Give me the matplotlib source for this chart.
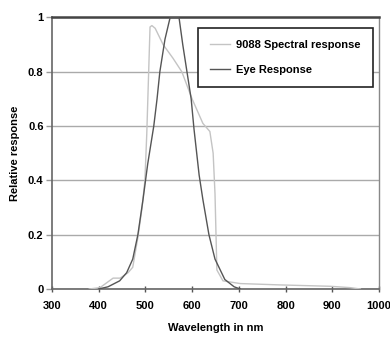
import matplotlib
matplotlib.use("Agg")
import matplotlib.pyplot as plt

# 9088 spectral response (light gray)
spec_nm = [380, 403, 431, 446, 463, 473, 484, 493, 499, 503, 510, 514, 521, 538, 559, 578,
           600, 623, 638, 645, 649, 653, 666, 703, 788, 895, 938, 960]
spec_val = [0.0, 0.005, 0.04, 0.04, 0.06, 0.08, 0.19, 0.30, 0.40, 0.57, 0.965, 0.97, 0.96, 0.90,
            0.85, 0.80, 0.70, 0.61, 0.58, 0.50, 0.35, 0.07, 0.03, 0.02, 0.015, 0.01, 0.005, 0.0]

# Eye response (dark gray)
eye_nm = [400, 420, 445, 460, 473, 484, 495, 505, 518, 525, 531, 542, 553, 572, 580, 589,
          598, 604, 615, 623, 636, 649, 670, 690, 703]
eye_val = [0.0, 0.008, 0.03, 0.06, 0.11, 0.20, 0.33, 0.46, 0.60, 0.70, 0.80, 0.92, 1.0, 1.0,
           0.90, 0.80, 0.70, 0.59, 0.42, 0.33, 0.20, 0.11, 0.035, 0.008, 0.0]

x_ticks = [300, 400, 500, 600, 700, 800, 900, 1000]
y_ticks = [0, 0.2, 0.4, 0.6, 0.8, 1]
y_labels = ["0", "0.2", "0.4", "0.6", "0.8", "1"]

fam = ["Liberation Sans", "DejaVu Sans"]
FS = 8
FONT = dict(family=fam, fontweight="bold")

fig = plt.figure(figsize=(3.9, 3.42), dpi=100)
ax = fig.add_axes([0.133, 0.155, 0.839, 0.794])

ax.plot(spec_nm, spec_val, color="#c4c4c4", lw=1.0, label="9088 Spectral response", zorder=3)
ax.plot(eye_nm, eye_val, color="#555555", lw=1.0, label="Eye Response", zorder=4)

ax.set_xlim(300, 1000)
ax.set_ylim(0, 1)
ax.set_xticks(x_ticks)
ax.set_yticks(y_ticks)
ax.set_xticklabels([str(v) for v in x_ticks], fontsize=FS, **FONT)
ax.set_yticklabels(y_labels, fontsize=FS, **FONT)
ax.tick_params(axis="x", direction="inout", length=5, width=1, color="#555555", pad=6)
ax.tick_params(axis="y", direction="out", length=4, width=1, color="#999999", pad=2)

ax.grid(axis="y", color="#aaaaaa", lw=1.0)
ax.set_axisbelow(True)

for s in ["left", "bottom"]:
    ax.spines[s].set_color("#666666")
    ax.spines[s].set_linewidth(1.2)
ax.spines["top"].set_color("#444444")
ax.spines["top"].set_linewidth(1.8)
ax.spines["right"].set_color("#888888")
ax.spines["right"].set_linewidth(1.0)

ax.set_xlabel("Wavelength in nm", fontsize=FS, labelpad=9, **FONT)
ax.set_ylabel("Relative response", fontsize=FS, labelpad=6, **FONT)

leg = ax.legend(loc="upper right", bbox_to_anchor=(0.982, 0.961), fancybox=False,
                framealpha=1, edgecolor="#222222", handlelength=1.8, handletextpad=0.6,
                borderpad=1.1, labelspacing=1.3, borderaxespad=0,
                prop=dict(family=fam, weight="bold", size=FS))
leg.get_frame().set_linewidth(1.2)

fig.savefig("out.png", dpi=100)
